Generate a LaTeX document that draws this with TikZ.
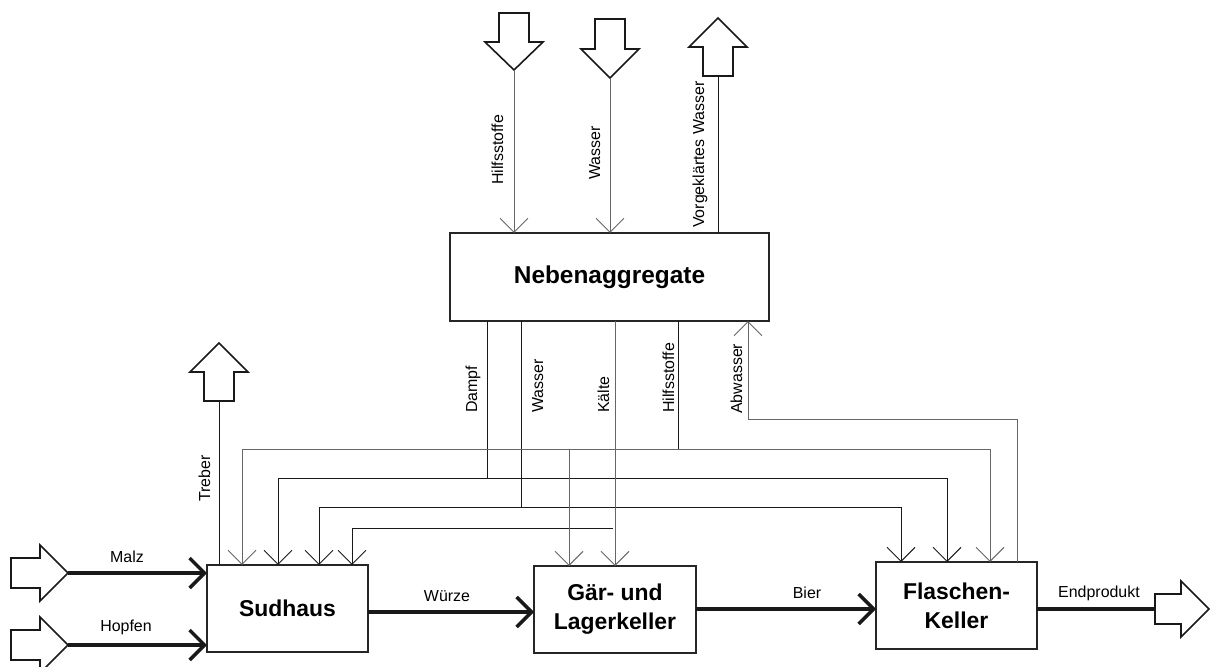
\documentclass[tikz,border=0pt]{standalone}
\usepackage{fontspec}
\setmainfont{Liberation Sans}
\usetikzlibrary{arrows.meta}
\tikzset{
  box/.style={draw=black!85, line width=1.6bp, inner sep=0pt, outer sep=0pt,
    font=\fontsize{23}{29}\selectfont\bfseries, align=center},
  lbl/.style={font=\fontsize{16}{19}\selectfont, inner sep=0pt},
  vlbl/.style={lbl, rotate=90, anchor=base west},
  flow/.style={line width=1bp, draw=black!60},
  flowdk/.style={line width=1bp, draw=black!90},
  tipped/.style={-{Straight Barb[length=14bp,width=28bp]}},
  mainflow/.style={line width=3.5bp, draw=black!90},
  maintip/.style={-{Straight Barb[length=15bp,width=30bp]}},
  hollow/.style={draw=black!90, line width=1.6bp, line join=miter, fill=white},
}
\begin{document}
\begin{tikzpicture}[x=1bp, y=-1bp]
\useasboundingbox (0,0) rectangle (1213,667);
\clip (0,0) rectangle (1213,667);

% process blocks
\node[box, minimum width=319bp, minimum height=88bp, font=\fontsize{24.5}{29}\selectfont\bfseries] (neben) at (609.5,277) {Nebenaggregate};
\node[box, minimum width=161bp, minimum height=87bp] (sud) at (287.5,608.5) {Sudhaus};
\node[box, minimum width=162bp, minimum height=87bp] (gaer) at (615,609.5) {Gär- und\\Lagerkeller};
\node[box, minimum width=161bp, minimum height=87bp] (flasche) at (956.5,605.5) {Flaschen-\\Keller};

% hollow inflow / outflow arrows
\draw[hollow] (11,558) -- (40,558) -- (40,545) -- (68,573) -- (40,601) -- (40,588) -- (11,588) -- cycle;
\coordinate (malz) at (68,573);
\draw[hollow] (11,630) -- (40,630) -- (40,617) -- (68,645) -- (40,673) -- (40,660) -- (11,660) -- cycle;
\coordinate (hopfen) at (68,645);
\draw[hollow] (1155,594) -- (1181,594) -- (1181,581) -- (1209,609) -- (1181,637) -- (1181,624) -- (1155,624) -- cycle;
\coordinate (endp) at (1155,609);
\draw[hollow] (499,13) -- (529,13) -- (529,42) -- (543,42) -- (514,70) -- (485,42) -- (499,42) -- cycle;
\coordinate (hilfin) at (514,70);
\draw[hollow] (595,19) -- (625,19) -- (625,49) -- (639,49) -- (610,78) -- (581,49) -- (595,49) -- cycle;
\coordinate (wasin) at (610,78);
\draw[hollow] (703,76) -- (733,76) -- (733,47) -- (747,47) -- (718,18) -- (689,47) -- (703,47) -- cycle;
\coordinate (vorg) at (718,76);
\draw[hollow] (204,401) -- (234,401) -- (234,372) -- (248,372) -- (219,343) -- (190,372) -- (204,372) -- cycle;
\coordinate (treber) at (219,401);

% main product flow
\draw[mainflow, maintip] (malz) -- (sud.west |- malz);
\draw[mainflow, maintip] (hopfen) -- (sud.west |- hopfen);
\draw[mainflow, maintip] (sud.east |- 0,612) -- (gaer.west |- 0,612);
\draw[mainflow, maintip] (gaer.east |- 0,609) -- (flasche.west |- 0,609);
\draw[mainflow] (flasche.east |- 0,609) -- (endp);

% supplies of the auxiliary plant
\draw[flow, tipped] (hilfin) -- (514,0 |- neben.north);
\draw[flow, tipped] (wasin) -- (610,0 |- neben.north);
\draw[flowdk] (718,0 |- neben.north) -- (vorg);
\draw[flowdk] (219,0 |- sud.north) -- (treber);

% steam
\coordinate (dampf) at (487,478);
\draw[flowdk] (487,0 |- neben.south) -- (dampf);
\draw[flowdk, tipped] (dampf) -| (278,0 |- sud.north);
\draw[flowdk, tipped] (dampf) -| (947,0 |- flasche.north);

% water
\coordinate (wasser) at (521,507);
\draw[flowdk] (521,0 |- neben.south) -- (wasser);
\draw[flowdk, tipped] (wasser) -| (319,0 |- sud.north);
\draw[flowdk, tipped] (wasser) -| (901,0 |- flasche.north);

% cooling
\draw[flow, tipped] (615,0 |- neben.south) -- (615,0 |- gaer.north);
\coordinate (kaelte) at (613,528);
\draw[flowdk, tipped] (kaelte) -| (352,0 |- sud.north);

% auxiliary materials
\coordinate (hilf) at (678,449);
\coordinate (hilfg) at (569,449);
\draw[flowdk] (678,0 |- neben.south) -- (hilf);
\draw[flow, tipped] (hilf) -| (242,0 |- sud.north);
\draw[flow, tipped] (hilf) -| (990,0 |- flasche.north);
\draw[flow, tipped] (hilfg) -- (569,0 |- gaer.north);

% waste water
\coordinate (abw) at (748,419);
\draw[flow, tipped] (1017,0 |- flasche.north) |- (abw) -- (748,0 |- neben.south);

% labels
\node[lbl] (lmalz) at (127,557) {Malz};
\node[lbl] (lhopfen) at (126,627) {Hopfen};
\node[lbl] (lwuerze) at (447,596) {Würze};
\node[lbl] (lbier) at (807,593) {Bier};
\node[lbl] (lend) at (1099,593) {Endprodukt};
\node[vlbl] (lhilfin) at (503,185) {Hilfsstoffe};
\node[vlbl] (lwasin) at (600,180) {Wasser};
\node[vlbl] (lvorg) at (704,228) {Vorgeklärtes Wasser};
\node[vlbl] (ltreber) at (210,502) {Treber};
\node[vlbl] (ldampf) at (477,413) {Dampf};
\node[vlbl] (lwasser) at (543,413) {Wasser};
\node[vlbl] (lkaelte) at (609,413) {Kälte};
\node[vlbl] (lhilf) at (674,413) {Hilfsstoffe};
\node[vlbl] (labw) at (742,414) {Abwasser};
\end{tikzpicture}
\end{document}
